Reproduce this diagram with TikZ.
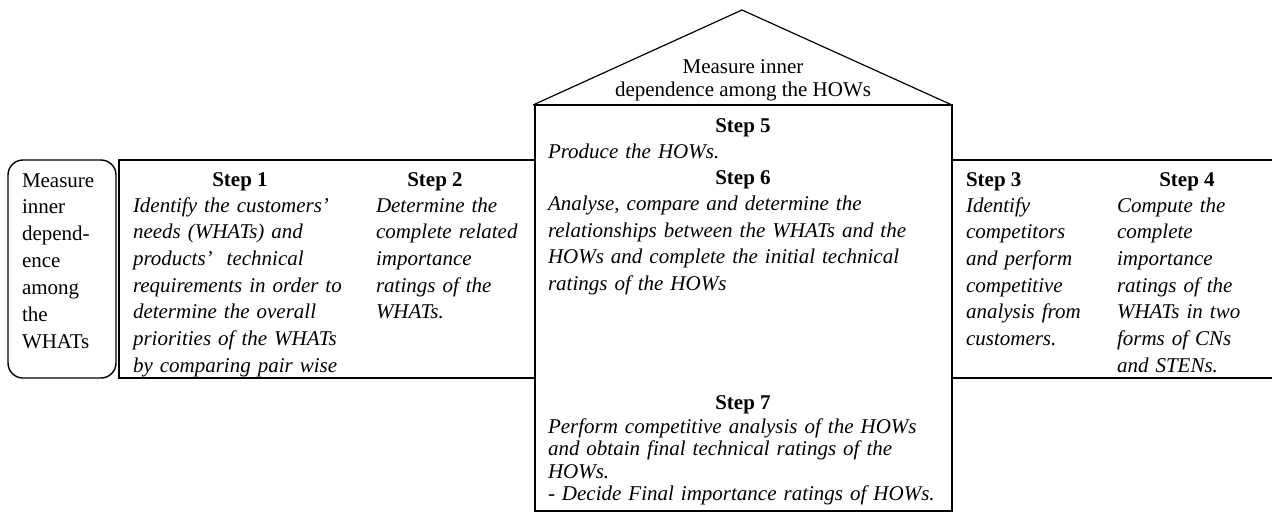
\documentclass[tikz,border=0pt]{standalone}
\usepackage{fontspec}
\setmainfont{Liberation Serif}
\begin{document}
\begin{tikzpicture}[x=1pt,y=-1pt,
  base/.style={inner sep=0pt, outer sep=0pt},
  body/.style={base, anchor=base west, align=left, text width=#1,
    font=\fontsize{21}{26.7}\selectfont\itshape},
  body/.default=300pt,
  plain/.style={base, anchor=base west, align=left, text width=#1,
    font=\fontsize{21}{26.9}\selectfont},
  plain/.default=120pt,
  head/.style={base, anchor=base, font=\fontsize{21}{26.4}\selectfont\bfseries},
  thick line/.style={line width=1.8pt},
  thin line/.style={line width=1.2pt}]
\useasboundingbox (0,0) rectangle (1272,512);

% coordinates of the frame
\coordinate (apex) at (742,10);
\coordinate (rl) at (533,105);
\coordinate (rr) at (952,105);
\coordinate (cbr) at (952,511);
\coordinate (ctl) at (535,105);
\coordinate (lt) at (119,160);
\coordinate (lb) at (119,378);
\coordinate (lte) at (535,160);
\coordinate (lbe) at (535,378);
\coordinate (rte) at (952,160);
\coordinate (rbe) at (952,378);
\coordinate (rtx) at (1272,160);
\coordinate (rbx) at (1272,378);
\coordinate (rbA) at (8,160);
\coordinate (rbB) at (116,378);

% roof
\draw[thin line] (rl) -- (apex) -- (rr);
% centre box
\draw[thick line] (ctl) rectangle (cbr);
% left box (open on the right, joined to centre box)
\draw[thick line] (lte) -- (lt) -- (lb) -- (lbe);
% right box lines
\draw[thick line] (rte) -- (rtx);
\draw[thick line] (rbe) -- (rbx);
% rounded box
\draw[line width=1.4pt, rounded corners=15pt] (rbA) rectangle (rbB);

% roof text (base anchor = last line)
\node[base, anchor=base, align=center, font=\fontsize{21}{23}\selectfont] (roof) at (743,96.5)
  {Measure inner\\dependence among the HOWs};

% rounded box text
\node[plain] (wbox) at (22,187)
  {Measure\\inner\\depend-\\ence\\among\\the\\WHATs};

% Step 1
\node[head] (h1) at (240,186) {Step 1};
\node[body=230pt] (b1) at (133,212)
  {Identify the customers’\\needs (WHATs) and\\products’\ \ technical\\requirements in order to\\determine the overall\\priorities of the WHATs\\by comparing pair wise};

% Step 2
\node[head] (h2) at (435,186) {Step 2};
\node[body=160pt] (b2) at (376,212)
  {Determine the\\complete related\\importance\\ratings of the\\WHATs.};

% Step 5
\node[head] (h5) at (743,132) {Step 5};
\node[body=400pt] (b5) at (548,158.5) {Produce the HOWs.};

% Step 6
\node[head] (h6) at (743,184.5) {Step 6};
\node[body=400pt, font=\fontsize{21}{26.5}\selectfont\itshape] (b6) at (548,210.5)
  {Analyse, compare and determine the\\relationships between the WHATs and the\\HOWs and complete the initial technical\\ratings of the HOWs};

% Step 7
\node[head] (h7) at (743,409) {Step 7};
\node[body=400pt, font=\fontsize{21}{22.6}\selectfont\itshape] (b7) at (548,433)
  {Perform competitive analysis of the HOWs\\and obtain final technical ratings of the\\HOWs.\\- Decide Final importance ratings of HOWs.};

% Step 3
\node[head, anchor=base west] (h3) at (966,186) {Step 3};
\node[body=140pt] (b3) at (966,212)
  {Identify\\competitors\\and perform\\competitive\\analysis from\\customers.};

% Step 4
\node[head] (h4) at (1187,186) {Step 4};
\node[body=150pt] (b4) at (1117,212)
  {Compute the\\complete\\importance\\ratings of the\\WHATs in two\\forms of CNs\\and STENs.};
\end{tikzpicture}
\end{document}
